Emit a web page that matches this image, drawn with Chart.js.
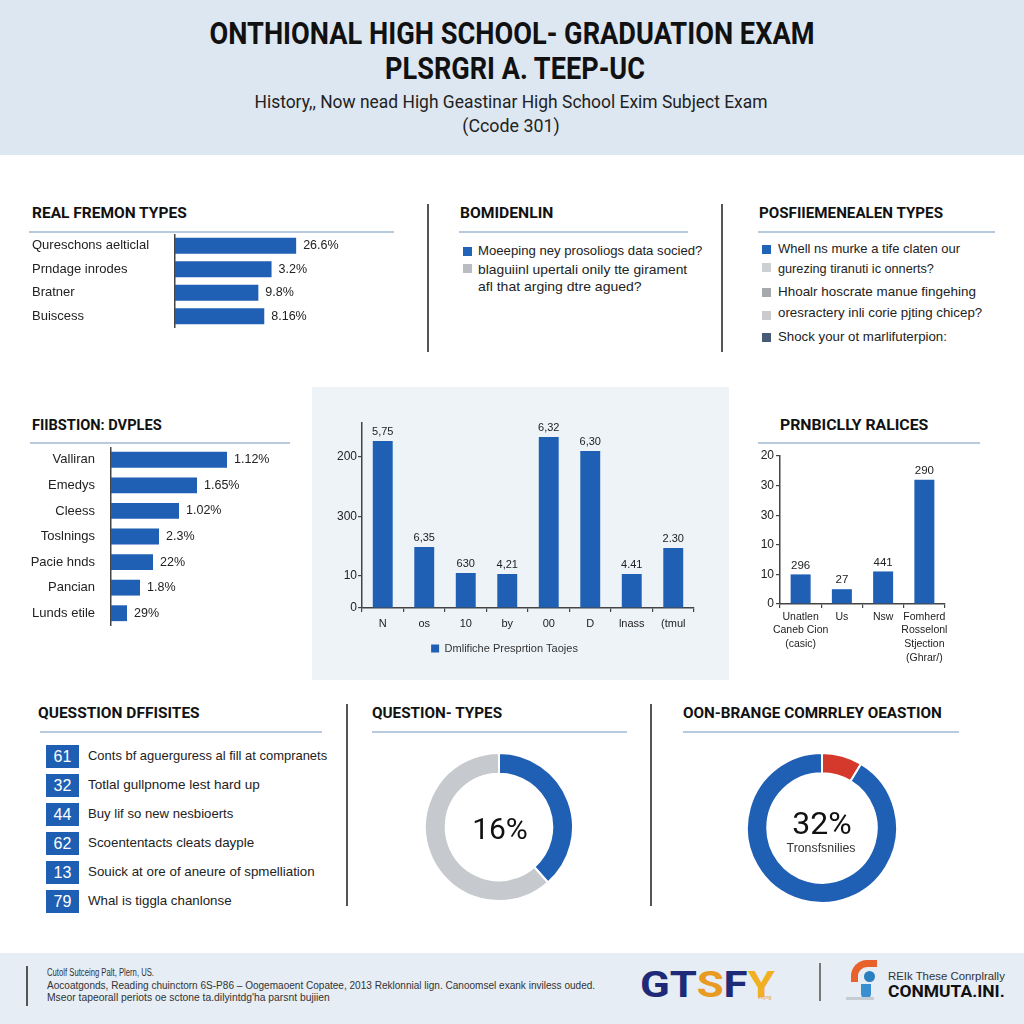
<!DOCTYPE html>
<html>
<head>
<meta charset="utf-8">
<title>Graduation exam infographic</title>
<script src="https://cdn.jsdelivr.net/npm/chart.js@4.4.1/dist/chart.umd.min.js"></script>
<style>
  html, body { margin:0; padding:0; }
  body { width:1024px; height:1024px; position:relative; overflow:hidden; background:#fff;
         font-family:"Liberation Sans", Arial, sans-serif; color:#222; }
  .a { position:absolute; white-space:nowrap; }
  .c { transform:translateX(-50%); transform-origin:50% 50%; }
  .l { transform-origin:0 50%; }
  .head { left:0; top:0; width:1024px; height:155px; background:#dde7f2; }
  .t1 { font-family:Roboto, sans-serif; font-weight:700; font-size:32px; line-height:36px; color:#111; }
  .sub { font-family:Roboto, sans-serif; font-size:18px; line-height:22px; color:#222; }
  .ptitle { font-family:Roboto, sans-serif; font-weight:700; font-size:15.5px; line-height:18px; color:#111; }
  .rule { position:absolute; height:2px; background:#b8cade; }
  .sep { position:absolute; width:2px; background:#555; }
  .item { font-size:13.5px; line-height:16px; color:#222; }
  .sq { position:absolute; width:9px; height:9px; }
  .badge { position:absolute; width:33px; height:23px; background:#1f5fb3; color:#fff; font-size:16px; line-height:23px; text-align:center; }
  canvas { position:absolute; }
  .panel { left:312px; top:387px; width:417px; height:293px; background:#eef3f8; }
  .foot { left:0; top:953px; width:1024px; height:71px; background:#e6edf5; }
  .ft { font-size:10px; line-height:12px; color:#333; }
  .big { font-family:Roboto, sans-serif; color:#111; }
</style>
</head>
<body>

<div class="a head"></div>
<div class="a c t1" style="left:512px;top:15px" data-w="605">ONTHIONAL HIGH SCHOOL- GRADUATION EXAM</div>
<div class="a c t1" style="left:515px;top:50px" data-w="260">PLSRGRI A. TEEP-UC</div>
<div class="a c sub" style="left:511px;top:91px" data-w="513">History,, Now nead High Geastinar High School Exim Subject Exam</div>
<div class="a c sub" style="left:511px;top:115px" data-w="97">(Ccode 301)</div>

<!-- top row -->
<div class="a l ptitle" style="left:32px;top:204px" data-w="155">REAL FREMON TYPES</div>
<div class="rule" style="left:29px;top:231px;width:365px"></div>
<canvas id="typeChart" width="373" height="94" style="left:32px;top:234px"></canvas>

<div class="sep" style="left:427px;top:204px;height:148px"></div>
<div class="a l ptitle" style="left:460px;top:204px" data-w="93">BOMIDENLIN</div>
<div class="rule" style="left:459px;top:231px;width:229px"></div>
<div class="sq" style="left:463px;top:247px;background:#2263b8"></div>
<div class="a l item" style="left:478px;top:243px" data-w="224">Moeeping ney prosoliogs data socied?</div>
<div class="sq" style="left:463px;top:264px;background:#b9bcc1"></div>
<div class="a l item" style="left:478px;top:262px" data-w="209">blaguiinl upertali onily tte girament</div>
<div class="a l item" style="left:478px;top:279px" data-w="164">afl that arging dtre agued?</div>

<div class="sep" style="left:721px;top:204px;height:148px"></div>
<div class="a l ptitle" style="left:759px;top:204px" data-w="184">POSFIIEMENEALEN TYPES</div>
<div class="rule" style="left:758px;top:231px;width:237px"></div>
<div class="sq" style="left:762px;top:245px;background:#1f64b8"></div>
<div class="a l item" style="left:778px;top:241px" data-w="182">Whell ns murke a tife claten our</div>
<div class="sq" style="left:762px;top:263px;background:#cdd0d3"></div>
<div class="a l item" style="left:778px;top:261px" data-w="156">gurezing tiranuti ic onnerts?</div>
<div class="sq" style="left:762px;top:288px;background:#a6a9ae"></div>
<div class="a l item" style="left:778px;top:284px" data-w="198">Hhoalr hoscrate manue fingehing</div>
<div class="sq" style="left:762px;top:311px;background:#c9cbce"></div>
<div class="a l item" style="left:778px;top:305px" data-w="204">oresractery inli corie pjting chicep?</div>
<div class="sq" style="left:762px;top:333px;background:#475a76"></div>
<div class="a l item" style="left:778px;top:329px" data-w="169">Shock your ot marlifuterpion:</div>

<!-- middle row -->
<div class="a l ptitle" style="left:32px;top:416px" data-w="130">FIIBSTION: DVPLES</div>
<div class="rule" style="left:30px;top:442px;width:260px"></div>
<canvas id="fibChart" width="290" height="179" style="left:12px;top:447px"></canvas>

<div class="a panel"></div>
<canvas id="distChart" width="410" height="269" style="left:315px;top:395px"></canvas>

<div class="a l ptitle" style="left:780px;top:416px" data-w="148">PRNBICLLY RALICES</div>
<div class="rule" style="left:758px;top:442px;width:222px"></div>
<canvas id="regChart" width="260" height="230" style="left:740px;top:440px"></canvas>

<!-- bottom row -->
<div class="a l ptitle" style="left:38px;top:704px" data-w="162">QUESSTION DFFISITES</div>
<div class="rule" style="left:40px;top:731px;width:282px"></div>
<div class="badge" style="left:46px;top:745px">61</div>
<div class="a l item" style="left:88px;top:748px" data-w="239">Conts bf aguerguress al fill at compranets</div>
<div class="badge" style="left:46px;top:774px">32</div>
<div class="a l item" style="left:88px;top:777px" data-w="172">Totlal gullpnome lest hard up</div>
<div class="badge" style="left:46px;top:803px">44</div>
<div class="a l item" style="left:88px;top:806px" data-w="145">Buy lif so new nesbioerts</div>
<div class="badge" style="left:46px;top:832px">62</div>
<div class="a l item" style="left:88px;top:835px" data-w="166">Scoententacts cleats dayple</div>
<div class="badge" style="left:46px;top:861px">13</div>
<div class="a l item" style="left:88px;top:864px" data-w="227">Souick at ore of aneure of spmelliation</div>
<div class="badge" style="left:46px;top:890px">79</div>
<div class="a l item" style="left:88px;top:893px" data-w="144">Whal is tiggla chanlonse</div>

<div class="sep" style="left:346px;top:704px;height:202px"></div>
<div class="a l ptitle" style="left:372px;top:704px" data-w="130">QUESTION- TYPES</div>
<div class="rule" style="left:372px;top:731px;width:255px"></div>
<canvas id="qtChart" width="150" height="150" style="left:424px;top:752px"></canvas>
<div class="a c big" style="left:500px;top:812px;font-size:30px;line-height:34px">16%</div>

<div class="sep" style="left:650px;top:704px;height:202px"></div>
<div class="a l ptitle" style="left:683px;top:704px" data-w="259">OON-BRANGE COMRRLEY OEASTION</div>
<div class="rule" style="left:683px;top:731px;width:276px"></div>
<canvas id="obChart" width="152" height="152" style="left:746px;top:752px"></canvas>
<div class="a c big" style="left:822px;top:805px;font-size:32px;line-height:36px">32%</div>
<div class="a c" style="left:821px;top:841px;font-size:12px;line-height:14px;color:#333" data-w="69">Tronsfsnilies</div>

<!-- footer -->
<div class="a foot"></div>
<div class="sep" style="left:26px;top:966px;height:40px"></div>
<div class="a l ft" style="left:47px;top:967px" data-w="107">Cutolf Sutceing Palt, Plern, US.</div>
<div class="a l ft" style="left:47px;top:980px" data-w="548">Aocoatgonds, Reading chuinctorn 6S-P86 – Oogemaoent Copatee, 2013 Reklonnial lign. Canoomsel exank inviless ouded.</div>
<div class="a l ft" style="left:47px;top:992px" data-w="283">Mseor tapeorall periots oe sctone ta.dilyintdg'ha parsnt bujiien</div>

<div class="a l" style="left:640px;top:967px;font:700 36px Roboto, sans-serif;line-height:36px" data-w="135"><span style="color:#1e2a78">GT</span><span style="color:#e89a22">S</span><span style="color:#1e2a78">F</span><span style="color:#f0b020">Y</span></div>
<div class="a" style="left:758px;top:994px;font-size:5px;line-height:6px;color:#e89a22">exyng</div>
<div class="sep" style="left:819px;top:963px;height:38px;width:1.5px;background:#777"></div>
<div class="a" style="left:851px;top:960px;width:26px;height:22px;border-top:7px solid #e8622c;border-left:7px solid #e8622c;border-top-left-radius:16px;box-sizing:border-box"></div>
<div class="a" style="left:864px;top:971px;width:11px;height:11px;border-radius:50%;background:#2a7fc0"></div>
<div class="a" style="left:861px;top:984px;width:10px;height:15px;background:#3a8fd0;border-radius:0 0 6px 6px"></div>
<div class="a" style="left:846px;top:997px;width:28px;height:3px;background:#c5ccd4"></div>
<div class="a l" style="left:888px;top:970px;font-size:11px;line-height:13px;color:#333" data-w="117">REIk These Conrplrally</div>
<div class="a l" style="left:888px;top:982px;font:700 17px Roboto, sans-serif;line-height:18px;color:#111" data-w="117">CONMUTA.INI.</div>

<script>
// top-left horizontal bars
const typeLabels = ["Qureschons aelticlal", "Prndage inrodes", "Bratner", "Buiscess"];
const typeValues = [26.6, 21.2, 18.3, 19.6];
const typeTexts = ["26.6%", "3.2%", "9.8%", "8.16%"];

// middle-left horizontal bars
const fibLabels = ["Valliran", "Emedys", "Cleess", "Toslnings", "Pacie hnds", "Pancian", "Lunds etile"];
const fibValues = [11.6, 8.6, 6.8, 4.8, 4.2, 2.9, 1.6];
const fibTexts = ["1.12%", "1.65%", "1.02%", "2.3%", "22%", "1.8%", "29%"];

// centre column chart
const distLabels = ["N", "os", "10", "by", "00", "D", "lnass", "(tmul"];
const distValues = [167, 61, 35, 34, 171, 157, 34, 60];
const distTexts = ["5,75", "6,35", "630", "4,21", "6,32", "6,30", "4.41", "2.30"];
const distTickValues = [0, 32, 91, 151];
const distTickLabels = ["0", "10", "300", "200"];

// right column chart
const regLabels = [["Unatlen", "Caneb Cion", "(casic)"], "Us", "Nsw", ["Fomherd", "Rosselonl", "Stjection", "(Ghrar/)"]];
const regValues = [1.0, 0.5, 1.1, 4.2];
const regTexts = ["296", "27", "441", "290"];
const regTickLabels = ["0", "10", "10", "30", "30", "20"];

// doughnuts
const qtValues = [38.5, 61.5];
const obValues = [8.7, 91.3];

const BLUE = "#1f5fb4";
const FONT = '"Liberation Sans", Arial, sans-serif';
Chart.defaults.font.family = FONT;
Chart.defaults.color = "#222";

function barText(texts, gap, size) {
  return {
    id: "barText",
    afterDatasetsDraw(chart) {
      const ctx = chart.ctx;
      const horiz = chart.options.indexAxis === "y";
      ctx.save();
      ctx.font = size + "px " + FONT;
      ctx.fillStyle = "#222";
      ctx.textBaseline = "middle";
      ctx.textAlign = horiz ? "left" : "center";
      chart.getDatasetMeta(0).data.forEach((bar, i) => {
        if (horiz) ctx.fillText(texts[i], bar.x + gap, bar.y);
        else ctx.fillText(texts[i], bar.x, bar.y - gap);
      });
      ctx.restore();
    }
  };
}

function hbar(id, labels, values, texts, max, axisW, barPct, align, pad) {
  return new Chart(document.getElementById(id), {
    type: "bar",
    data: { labels: labels, datasets: [{ data: values, backgroundColor: BLUE, categoryPercentage: 1, barPercentage: barPct }] },
    options: {
      indexAxis: "y", responsive: false, animation: false,
      layout: { padding: 0 },
      plugins: { legend: { display: false }, tooltip: { enabled: false } },
      scales: {
        x: { display: false, min: 0, max: max },
        y: {
          afterFit: s => { s.width = axisW; s.paddingTop = 0; s.paddingBottom = 0; },
          grid: { display: false },
          border: { color: "#444", width: 1.5 },
          ticks: { font: { size: 13 }, color: "#222", padding: pad, crossAlign: align }
        }
      }
    },
    plugins: [barText(texts, 7, 12.5)]
  });
}

hbar("typeChart", typeLabels, typeValues, typeTexts, 50.5, 143, 0.68, "far", 8);
hbar("fibChart", fibLabels, fibValues, fibTexts, 19.1, 99, 0.62, "near", 8);

const axisGrid = { drawOnChartArea: false, tickLength: 4, color: "#444", lineWidth: 1.2 };
const axisBorder = { color: "#444", width: 1.5 };

new Chart(document.getElementById("distChart"), {
  type: "bar",
  data: {
    labels: distLabels,
    datasets: [{ label: "Dmlifiche Presprtion Taojes", data: distValues, backgroundColor: BLUE, categoryPercentage: 1, barPercentage: 0.48 }]
  },
  options: {
    responsive: false, animation: false,
    layout: { padding: { top: 28, right: 31, left: 0, bottom: 0 } },
    plugins: {
      legend: { position: "bottom", labels: { boxWidth: 8, boxHeight: 8, padding: 10, font: { size: 11 }, color: "#333" } },
      tooltip: { enabled: false }
    },
    scales: {
      x: {
        afterFit: s => { s.height = 25; },
        grid: axisGrid, border: axisBorder,
        ticks: { font: { size: 11 }, color: "#222", padding: 5, autoSkip: false, maxRotation: 0 }
      },
      y: {
        min: 0, max: 185,
        afterFit: s => { s.width = 47; },
        afterBuildTicks: s => { s.ticks = distTickValues.map(v => ({ value: v })); },
        grid: axisGrid, border: axisBorder,
        ticks: { callback: (v, i) => distTickLabels[i], font: { size: 12 }, color: "#222", padding: 1 }
      }
    }
  },
  plugins: [barText(distTexts, 9, 11)]
});

new Chart(document.getElementById("regChart"), {
  type: "bar",
  data: { labels: regLabels, datasets: [{ data: regValues, backgroundColor: BLUE, categoryPercentage: 1, barPercentage: 0.485 }] },
  options: {
    responsive: false, animation: false,
    layout: { padding: { top: 16, right: 55, left: 0, bottom: 0 } },
    plugins: { legend: { display: false }, tooltip: { enabled: false } },
    scales: {
      x: {
        afterFit: s => { s.height = 66; },
        grid: axisGrid, border: axisBorder,
        ticks: { font: { size: 10.5, lineHeight: 1.3 }, color: "#222", padding: 2, maxRotation: 0, autoSkip: false }
      },
      y: {
        min: 0, max: 5,
        afterFit: s => { s.width = 40; },
        grid: axisGrid, border: axisBorder,
        ticks: { stepSize: 1, callback: (v, i) => regTickLabels[i], font: { size: 12 }, color: "#222", padding: 2 }
      }
    }
  },
  plugins: [barText(regTexts, 9, 11.5)]
});

function ring(id, values, colors, cutout) {
  return new Chart(document.getElementById(id), {
    type: "doughnut",
    data: { datasets: [{ data: values, backgroundColor: colors, borderColor: "#fff", borderWidth: 2 }] },
    options: {
      responsive: false, animation: false, cutout: cutout,
      plugins: { legend: { display: false }, tooltip: { enabled: false } }
    }
  });
}
ring("qtChart", qtValues, [BLUE, "#c6c9cd"], "72%");
ring("obChart", obValues, ["#d5392b", BLUE], "73%");

function fitText() {
  document.querySelectorAll("[data-w]").forEach(el => {
    const s = Number(el.dataset.w) / el.offsetWidth;
    el.style.transform = (el.classList.contains("c") ? "translateX(-50%) " : "") + "scaleX(" + s.toFixed(3) + ")";
  });
}
fitText();
if (document.fonts) document.fonts.ready.then(fitText);
</script>
</body>
</html>
